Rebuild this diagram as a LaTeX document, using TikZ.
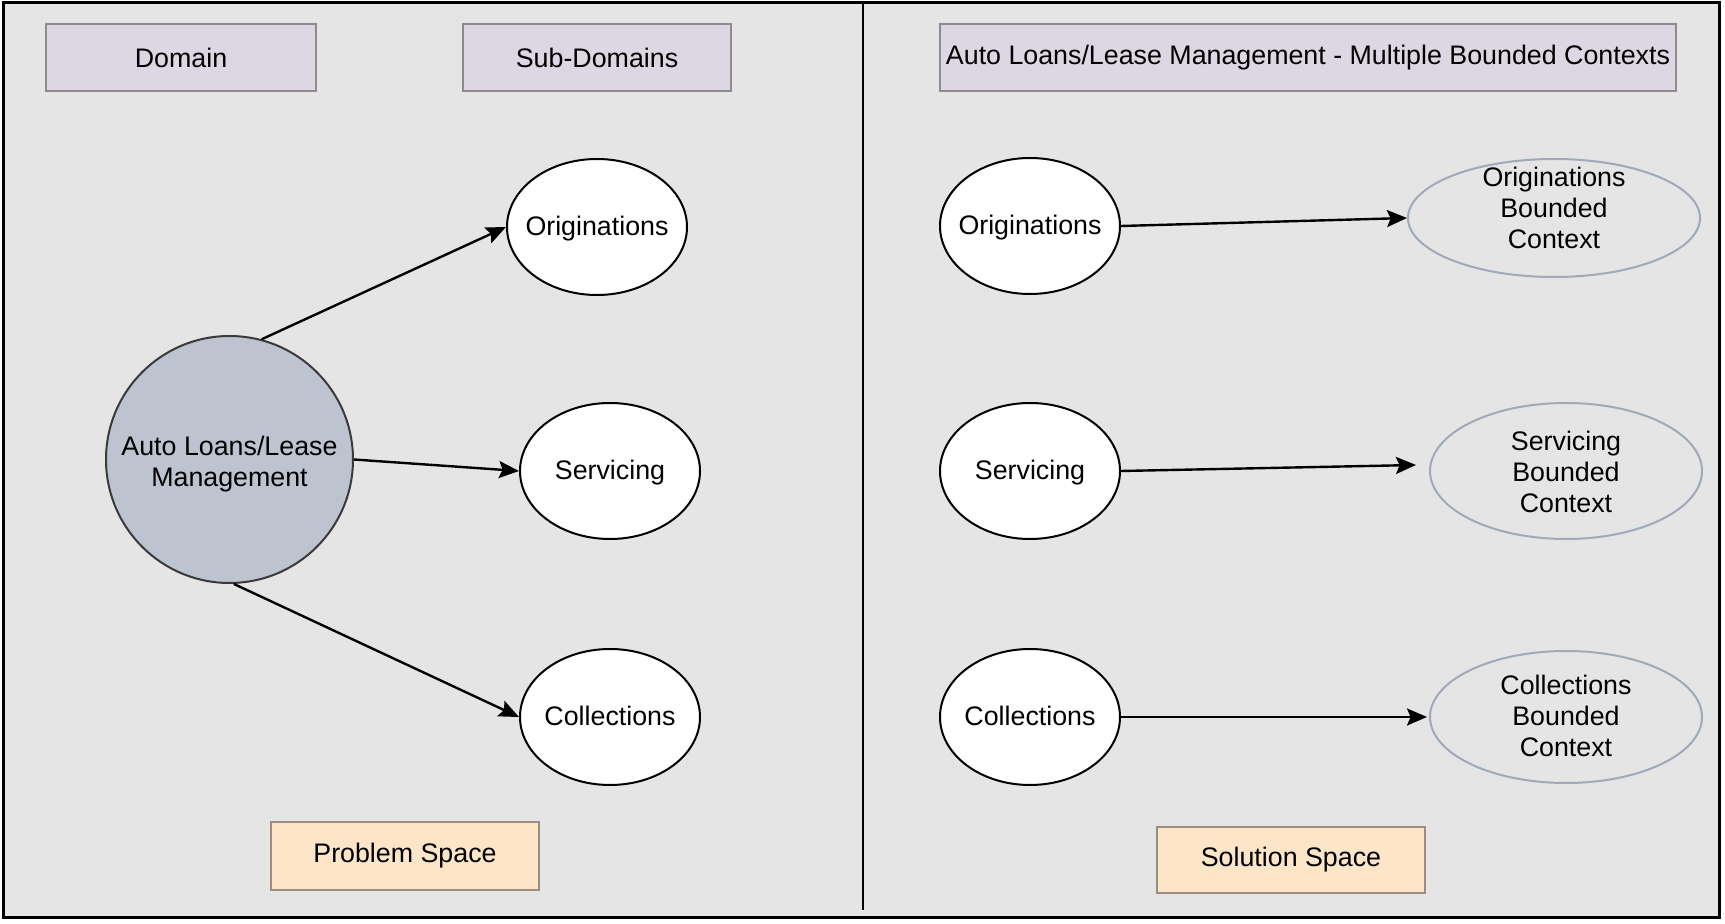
\documentclass[tikz,border=0pt]{standalone}
\usepackage{fontspec}
\setmainfont{Liberation Sans}
\usetikzlibrary{shapes.geometric,arrows.meta}

\definecolor{panelgray}{HTML}{E5E5E5}
\definecolor{lavender}{HTML}{DDD6E3}
\definecolor{lavenderedge}{HTML}{8E8A90}
\definecolor{peach}{HTML}{FDE5C8}
\definecolor{peachedge}{HTML}{9C8C84}
\definecolor{domainfill}{HTML}{BDC4D0}
\definecolor{domainedge}{HTML}{3A3A3A}
\definecolor{bcedge}{HTML}{9FA9B8}

% text of zero size, so that a round node's size comes only from its minimum
% width/height; the optional argument moves the text up or down
\newcommand\zwtext[2][-5pt]{\raisebox{#1}[0pt][0pt]{\makebox[0pt]{%
  \begin{tabular}{@{}c@{}}#2\end{tabular}}}}

\tikzset{
  labelbox/.style={rectangle, fill=lavender, draw=lavenderedge, line width=0.9pt, inner sep=0pt},
  spacebox/.style={rectangle, fill=peach, draw=peachedge, line width=0.9pt, inner sep=0pt},
  domaincircle/.style={circle, fill=domainfill, draw=domainedge, line width=1pt, inner sep=0pt,
    minimum size=123.5pt},
  subdomain/.style={ellipse, fill=white, draw=black, line width=1pt, inner sep=0pt,
    minimum width=90pt, minimum height=68pt},
  bcontext/.style={ellipse, fill=panelgray, draw=bcedge, line width=1pt, inner sep=0pt},
  arr/.style={line width=1.2pt, -{Stealth[length=10pt,width=8.5pt,inset=1.8pt]}},
}

\begin{document}
\begin{tikzpicture}[x=0.5pt, y=-0.5pt, font=\fontsize{13.4}{15.5}\selectfont]
  \useasboundingbox (0,0) rectangle (1725,924);
  \fill[white] (0,0) rectangle (1725,924);

  % outer frame and the two halves
  \draw[fill=panelgray, line width=1.5pt] (3,3) rectangle (1719,917);
  \coordinate (divtop) at (863,3);
  \coordinate (divbot) at (863,910);
  \draw[line width=1pt] (divtop) -- (divbot);

  % header boxes
  \node[labelbox, minimum width=135pt, minimum height=33.5pt] (hdomain) at (181,57.5) {Domain};
  \node[labelbox, minimum width=134pt, minimum height=33.5pt] (hsub) at (597,57.5) {Sub-Domains};
  \node[labelbox, minimum width=368pt, minimum height=33.5pt] (htitle) at (1308,57.5)
    {Auto Loans/Lease Management - Multiple Bounded Contexts};

  % problem space
  \node[domaincircle] (dom) at (229.5,459.5) {\zwtext[-6.5pt]{Auto Loans/Lease\\Management}};
  \node[subdomain] (lorig) at (597,227) {\zwtext{Originations}};
  \node[subdomain] (lserv) at (610,471) {\zwtext{Servicing}};
  \node[subdomain] (lcoll) at (610,717) {\zwtext{Collections}};

  \draw[arr] (dom.75) -- (lorig.west);
  \draw[arr] (dom.east) -- (lserv.west);
  \draw[arr] (dom.-88) -- (lcoll.west);

  % solution space
  \node[subdomain] (rorig) at (1030,226) {\zwtext{Originations}};
  \node[subdomain] (rserv) at (1030,471) {\zwtext{Servicing}};
  \node[subdomain] (rcoll) at (1030,717) {\zwtext{Collections}};

  \node[bcontext, minimum width=146pt, minimum height=59pt] (borig) at (1554,218)
    {\zwtext[-0.5pt]{Originations\\Bounded\\Context}};
  \node[bcontext, minimum width=136pt, minimum height=68pt] (bserv) at (1566,471)
    {\zwtext[-6pt]{Servicing\\Bounded\\Context}};
  \node[bcontext, minimum width=136pt, minimum height=66pt] (bcoll) at (1566,717)
    {\zwtext{Collections\\Bounded\\Context}};

  \draw[arr] (rorig.east) -- (borig.west);
  \draw[arr] (rserv.east) -- ([xshift=-6.5pt,yshift=3pt]bserv.west);
  \draw[arr] (rcoll.east) -- ([xshift=-1pt]bcoll.west);

  % footer boxes
  \node[spacebox, minimum width=134pt, minimum height=34pt] (pspace) at (405,856) {Problem Space};
  \node[spacebox, minimum width=134pt, minimum height=33pt] (sspace) at (1291,860) {Solution Space};
\end{tikzpicture}
\end{document}
